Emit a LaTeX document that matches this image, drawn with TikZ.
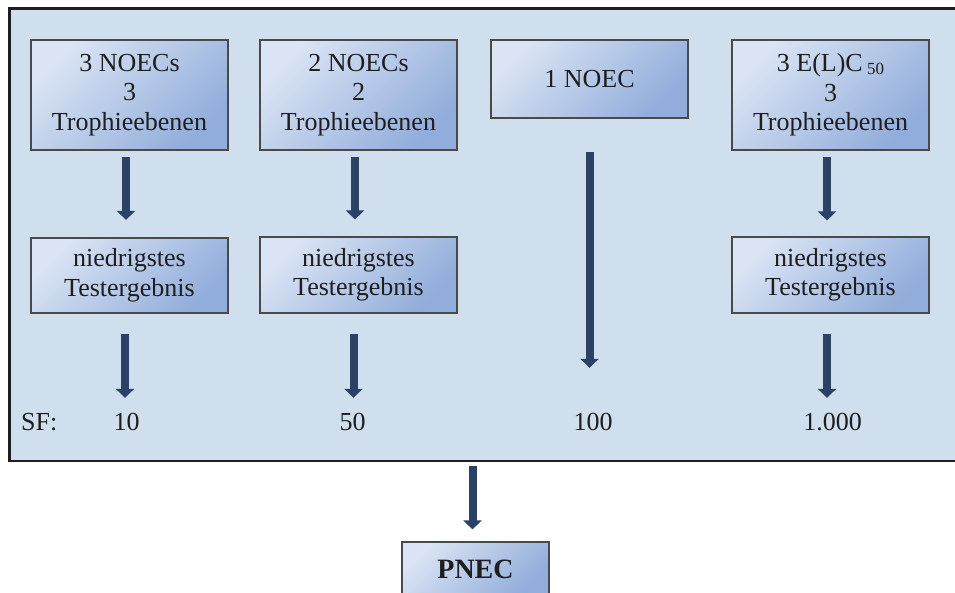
\documentclass[tikz,border=0pt]{standalone}
\usepackage{fontspec}
\setmainfont{Liberation Serif}
\usetikzlibrary{arrows.meta}

\definecolor{panelbg}{HTML}{CFDFED}
\definecolor{boxlight}{HTML}{DAE4F4}
\definecolor{boxdark}{HTML}{91ADDB}
\definecolor{boxline}{HTML}{4A4A4A}
\definecolor{arrowblue}{HTML}{2B4266}
\definecolor{ink}{HTML}{1E1E1E}

\tikzset{
  panel/.style={draw=ink, line width=2.5pt, fill=panelbg, inner sep=0pt},
  stepbox/.style={draw=boxline, line width=1.2pt,
    top color=boxlight, bottom color=boxdark, shading angle=45,
    minimum width=197pt, inner sep=0pt, align=center, text=ink,
    font=\fontsize{26}{29.5}\selectfont},
  factor/.style={inner sep=0pt, anchor=base, text=ink,
    text height=18pt, text depth=0pt,
    font=\fontsize{26}{29.5}\selectfont},
  flow/.style={draw=arrowblue, line width=8pt, line cap=butt,
    -{Triangle[width=18pt,length=9pt]}},
}

\begin{document}
\begin{tikzpicture}[x=1pt,y=-1pt]
  \useasboundingbox (0,0) rectangle (955,592);

  % framed panel holding the four branches
  \node[panel, minimum width=960.5pt, minimum height=452.3pt] (frame) at (489.75,234.85) {};

  % upper row: available test data
  \node[stepbox, minimum height=110pt] (b1) at (129.5,95) {3 NOECs\\3\\Trophieebenen};
  \node[stepbox, minimum height=110pt] (b2) at (358.5,95) {2 NOECs\\2\\Trophieebenen};
  \node[stepbox, minimum height=78pt]  (b3) at (589.5,79) {1 NOEC};
  \node[stepbox, minimum height=110pt] (b4) at (830.5,95)
    {3 E(L)C\,\raisebox{-2.5pt}{\fontsize{17}{17}\selectfont 50}\\3\\Trophieebenen};

  % middle row: lowest result
  \node[stepbox, minimum height=75pt] (l1) at (129.5,275.5) {niedrigstes\\Testergebnis};
  \node[stepbox, minimum height=76pt] (l2) at (358.5,275) {niedrigstes\\Testergebnis};
  \node[stepbox, minimum height=76pt] (l4) at (830.5,275) {niedrigstes\\Testergebnis};

  % safety factors
  \node[factor, anchor=base west] (sf) at (21,430) {SF:};
  \node[factor] (n1) at (126.5,430) {10};
  \node[factor] (n2) at (352.5,430) {50};
  \node[factor] (n3) at (593,430) {100};
  \node[factor] (n4) at (832.5,430) {1.000};

  % result box
  \node[stepbox, minimum width=147pt, minimum height=54pt,
        font=\fontsize{28}{30}\selectfont\bfseries] (pnec) at (475.5,569) {PNEC};

  % arrows from data to lowest result
  \draw[flow, shorten <=6pt, shorten >=17.5pt]
    ([xshift=-3.5pt]b1.south) -- ([xshift=-3.5pt]l1.north);
  \draw[flow, shorten <=6pt, shorten >=17pt]
    ([xshift=-3.5pt]b2.south) -- ([xshift=-3.5pt]l2.north);
  \draw[flow, shorten <=6pt, shorten >=16pt]
    ([xshift=-3.5pt]b4.south) -- ([xshift=-3.5pt]l4.north);

  % arrows from lowest result to safety factor
  \draw[flow, shorten <=20pt, shorten >=14pt]
    ([xshift=-4.5pt]l1.south) -- ([xshift=-4.5pt]l1.south |- n1.north);
  \draw[flow, shorten <=20pt, shorten >=14pt]
    ([xshift=-5pt]l2.south) -- ([xshift=-5pt]l2.south |- n2.north);
  \draw[flow, shorten <=20pt, shorten >=14pt]
    ([xshift=-3.5pt]l4.south) -- ([xshift=-3.5pt]l4.south |- n4.north);

  % single NOEC goes straight to its factor
  \draw[flow, shorten <=33pt, shorten >=44pt]
    (b3.south) -- (b3.south |- n3.north);

  % panel to PNEC
  \draw[flow, shorten <=4pt, shorten >=12pt]
    ([xshift=-3pt]pnec.north |- frame.south) -- ([xshift=-3pt]pnec.north);
\end{tikzpicture}
\end{document}
